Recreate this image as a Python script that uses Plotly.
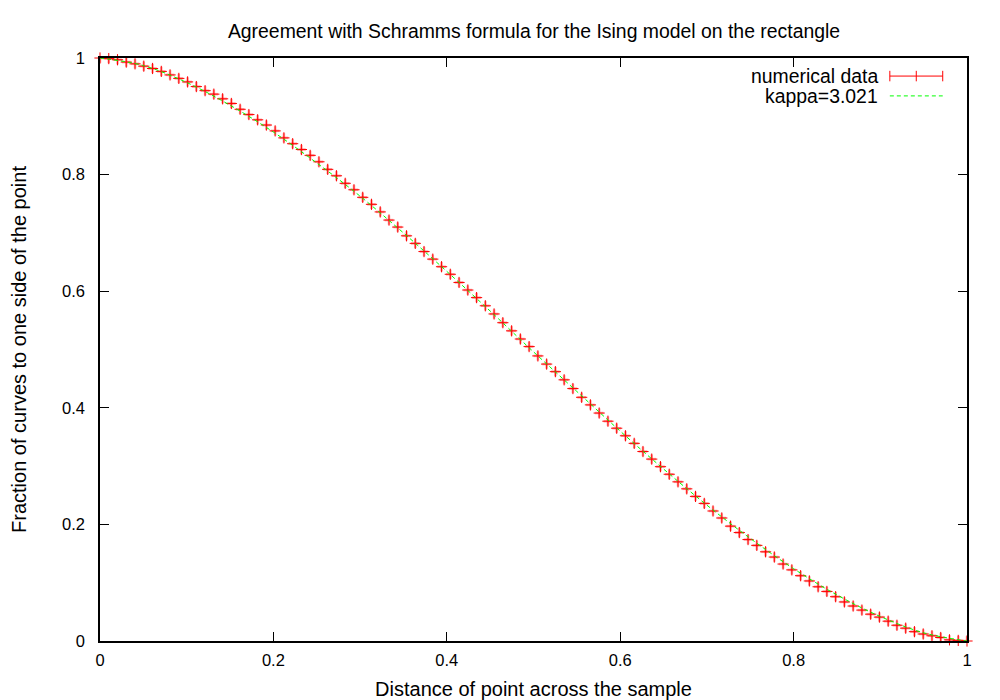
import plotly.graph_objects as go

# measured fraction, 100 samples evenly spread over [0, 1]
n_pts = 100
x_data = [i / (n_pts - 1) for i in range(n_pts)]
y_data = [
    1.000, 0.999, 0.997, 0.993, 0.990, 0.986, 0.982, 0.977, 0.971, 0.965,
    0.959, 0.951, 0.944, 0.938, 0.930, 0.922, 0.912, 0.903, 0.894, 0.885,
    0.875, 0.863, 0.853, 0.843, 0.833, 0.822, 0.809, 0.798, 0.785, 0.774,
    0.761, 0.749, 0.736, 0.722, 0.710, 0.695, 0.682, 0.668, 0.655, 0.642,
    0.629, 0.615, 0.602, 0.589, 0.575, 0.561, 0.546, 0.532, 0.518, 0.505,
    0.489, 0.475, 0.462, 0.448, 0.433, 0.418, 0.405, 0.391, 0.377, 0.365,
    0.352, 0.339, 0.325, 0.312, 0.299, 0.286, 0.273, 0.261, 0.248, 0.236,
    0.223, 0.211, 0.197, 0.186, 0.174, 0.164, 0.153, 0.144, 0.132, 0.122,
    0.112, 0.103, 0.093, 0.085, 0.076, 0.067, 0.060, 0.053, 0.046, 0.041,
    0.034, 0.027, 0.022, 0.016, 0.012, 0.009, 0.006, 0.002, 0.001, 0.000,
]
x_err = 0.005
y_err = 0.008

# kappa=3.021 curve
x_fit = [0.0, 0.05, 0.1, 0.15, 0.2, 0.25, 0.3, 0.35, 0.4, 0.45, 0.5,
         0.55, 0.6, 0.65, 0.7, 0.75, 0.8, 0.85, 0.9, 0.95, 1.0]
y_fit = [1.0, 0.987, 0.958, 0.919, 0.873, 0.820, 0.763, 0.700, 0.634, 0.566, 0.496,
         0.428, 0.360, 0.295, 0.233, 0.176, 0.124, 0.079, 0.042, 0.014, 0.0]

ticks = [0, 0.2, 0.4, 0.6, 0.8, 1]

FONT = "Liberation Sans, Arial, sans-serif"

fig = go.Figure()
fig.add_trace(go.Scatter(x=x_data, y=y_data, mode='markers',
                         name='numerical data',
                         marker=dict(symbol='cross-thin', size=8,
                                     line=dict(color='#ff0000', width=1)),
                         error_x=dict(type='constant', value=x_err,
                                      color='rgba(255,0,0,0.35)', thickness=2.5, width=0),
                         error_y=dict(type='constant', value=y_err,
                                      color='rgba(255,0,0,0.35)', thickness=2.5, width=0),
                         cliponaxis=False))
fig.add_trace(go.Scatter(x=x_fit, y=y_fit, mode='lines', name='kappa=3.021',
                         line=dict(color='#00ff00', width=1, dash='4px,3px',
                                   shape='spline')))

axis = dict(range=[0, 1], tickvals=ticks, ticktext=[str(t) for t in ticks],
            showline=True, linecolor='black', linewidth=1.5, mirror='ticks',
            ticks='inside', ticklen=9, tickcolor='black', tickwidth=1,
            showgrid=False, zeroline=False, automargin=False,
            tickfont=dict(family=FONT, size=16.5, color='black'))

fig.update_layout(width=1000, height=700,
                  paper_bgcolor='white', plot_bgcolor='white',
                  showlegend=False,
                  margin=dict(l=92, r=41, t=50, b=67),
                  font=dict(family=FONT, size=16.5, color='black'),
                  title=dict(text='Agreement with Schramms formula for the Ising model on the rectangle',
                             x=0.526, xanchor='center', y=0.967, yanchor='middle',
                             font=dict(family=FONT, size=19.4)),
                  xaxis=dict(axis, ticklabelstandoff=3,
                             title=dict(text='Distance of point across the sample',
                                        standoff=14)),
                  yaxis=dict(axis, ticklabelstandoff=10,
                             title=dict(text='Fraction of curves to one side of the point',
                                        standoff=33)))

# gnuplot-style key: text on the left, sample on the right
kx_text, kx0, kx1, ky1, ky2 = 0.8995, 0.911, 0.972, 0.969, 0.935
fig.add_annotation(text='numerical data', xref='paper', yref='paper', x=kx_text, y=ky1,
                   xanchor='right', yanchor='middle', showarrow=False, font=dict(size=19.4))
fig.add_annotation(text='kappa=3.021', xref='paper', yref='paper', x=kx_text, y=ky2,
                   xanchor='right', yanchor='middle', showarrow=False, font=dict(size=19.4))
fig.add_shape(type='line', xref='paper', yref='paper', x0=kx0, x1=kx1, y0=ky1, y1=ky1,
              line=dict(color='#ff0000', width=1))
for xx in (kx0, (kx0 + kx1) / 2, kx1):
    fig.add_shape(type='line', xref='paper', yref='paper', x0=xx, x1=xx,
                  y0=ky1 - 0.009, y1=ky1 + 0.009, line=dict(color='#ff0000', width=1))
fig.add_shape(type='line', xref='paper', yref='paper', x0=kx0, x1=kx1, y0=ky2, y1=ky2,
              line=dict(color='#00ff00', width=1, dash='4px,3px'))

fig.write_html("out.html")
